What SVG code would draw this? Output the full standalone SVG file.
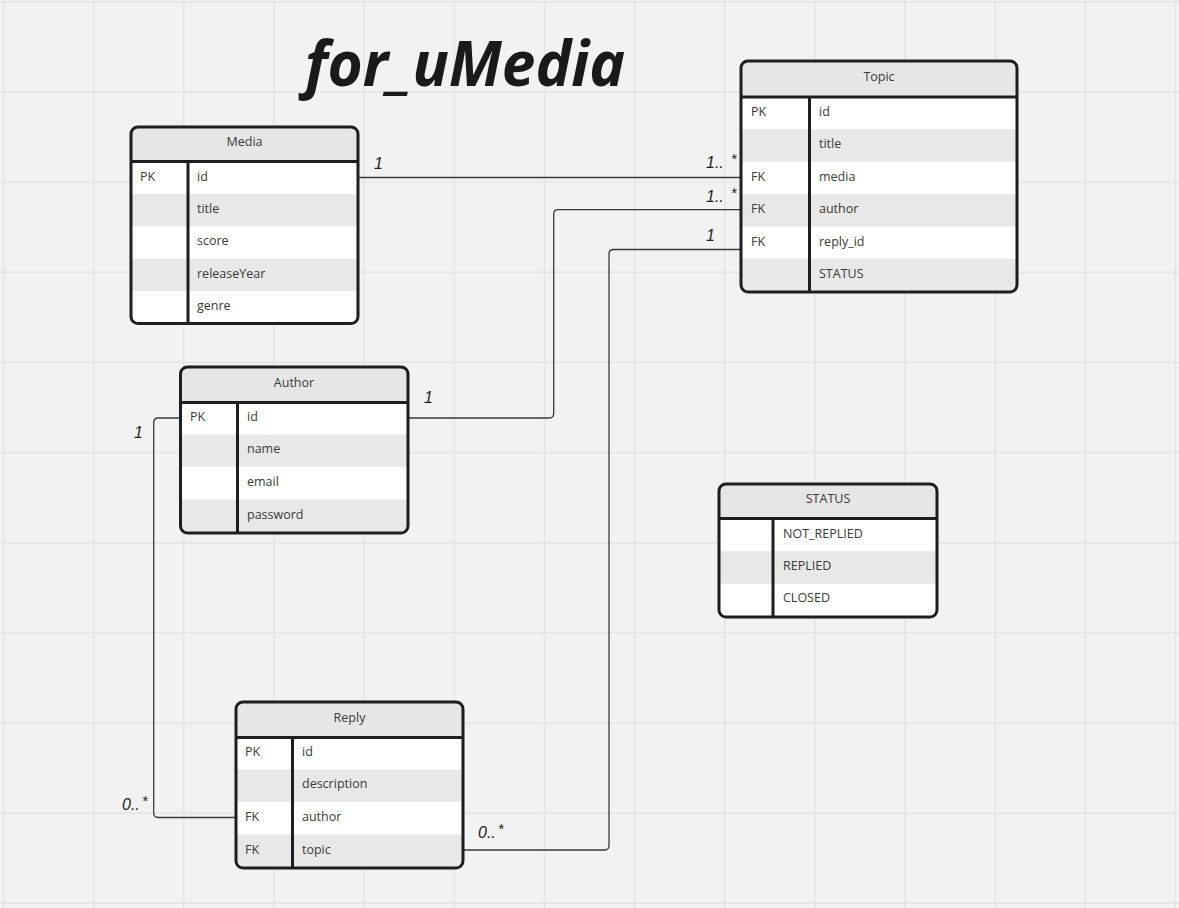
<svg xmlns="http://www.w3.org/2000/svg" width="1179" height="908" viewBox="0 0 1179 908">
<style>
.grid{stroke:#e3e3e3;stroke-width:1.4}
.box{fill:none;stroke:#1e1e1e;stroke-width:3}
.div{stroke:#1e1e1e;stroke-width:3}
.hdr{fill:#e6e6e6}
.alt{fill:#e8e8e8}
.body{fill:#ffffff}
.t{font-family:"Open Sans","Noto Sans",sans-serif;font-size:12.5px;fill:#3a3a3a;transform:translateY(-0.8px)}
.h{font-family:"Open Sans","Noto Sans",sans-serif;font-size:12.5px;fill:#3a3a3a;text-anchor:middle;transform:translateY(-0.8px)}
.conn{fill:none;stroke:#3a3a3a;stroke-width:1.3}
.lbl{font-family:"Liberation Sans","DejaVu Sans",sans-serif;font-style:italic;font-size:16px;fill:#222}
.star{font-size:15px}
.title{font-family:"Noto Sans","DejaVu Sans",sans-serif;font-weight:bold;font-style:italic;font-size:62px;fill:#1a1a1a}
</style>
<defs>
<clipPath id="cMedia"><rect x="131" y="127" width="227" height="196.5" rx="7"/></clipPath>
<clipPath id="cTopic"><rect x="741" y="61" width="276" height="231" rx="7"/></clipPath>
<clipPath id="cAuthor"><rect x="180.5" y="367" width="227.5" height="166" rx="7"/></clipPath>
<clipPath id="cReply"><rect x="236" y="702" width="227" height="166" rx="7"/></clipPath>
<clipPath id="cStatus"><rect x="719" y="484" width="218" height="133" rx="7"/></clipPath>
</defs>
<rect x="0" y="0" width="1179" height="908" fill="#f2f2f2"/>
<g id="grid">
<path class="grid" d="M3.5,0V908M93.7,0V908M183.8,0V908M274,0V908M364.1,0V908M454.3,0V908M544.4,0V908M634.6,0V908M724.7,0V908M814.9,0V908M905,0V908M995.2,0V908M1085.3,0V908M1175.5,0V908"/>
<path class="grid" d="M0,1.8H1179M0,92H1179M0,182.1H1179M0,272.3H1179M0,362.4H1179M0,452.6H1179M0,542.7H1179M0,632.9H1179M0,723H1179M0,813.2H1179M0,903.3H1179"/>
</g>
<text id="title" class="title" x="305" y="86" textLength="320" lengthAdjust="spacingAndGlyphs">for_uMedia</text>
<g id="connectors">
<path class="conn" d="M358,177.5H741"/>
<path class="conn" d="M408,418H549.2q4.5,0 4.5,-4.5V214.2q0,-4.5 4.5,-4.5H741"/>
<path class="conn" d="M463,850H604.5q4.5,0 4.5,-4.5V254q0,-4.5 4.5,-4.5H741"/>
<path class="conn" d="M180.5,418H158.2q-4.5,0 -4.5,4.5V813q0,4.5 4.5,4.5H236"/>
<text class="lbl" x="374" y="169">1</text>
<text class="lbl" x="706" y="168">1..<tspan class="star" dx="7" dy="-4">*</tspan></text>
<text class="lbl" x="706" y="201.5">1..<tspan class="star" dx="7" dy="-4">*</tspan></text>
<text class="lbl" x="706" y="241">1</text>
<text class="lbl" x="424" y="402.5">1</text>
<text class="lbl" x="134" y="438">1</text>
<text class="lbl" x="122" y="809.5">0..<tspan class="star" dx="2" dy="-4">*</tspan></text>
<text class="lbl" x="478" y="838">0..<tspan class="star" dx="2" dy="-4">*</tspan></text>
</g>
<g id="media">
<g clip-path="url(#cMedia)">
<rect class="body" x="131" y="127" width="227" height="196.5"/>
<rect class="hdr" x="131" y="127" width="227" height="34.5"/>
<rect class="alt" x="131" y="193.9" width="227" height="32.4"/>
<rect class="alt" x="131" y="258.7" width="227" height="32.4"/>
</g>
<path class="div" d="M131,161.5H358M188,161.5V323.5"/>
<rect class="box" x="131" y="127" width="227" height="196.5" rx="7"/>
<text class="h" x="244.5" y="147.3">Media</text>
<text class="t" x="140" y="181.5">PK</text>
<text class="t" x="197" y="181.5">id</text>
<text class="t" x="197" y="213.5">title</text>
<text class="t" x="197" y="246">score</text>
<text class="t" x="197" y="278.5">releaseYear</text>
<text class="t" x="197" y="310.5">genre</text>
</g>
<g id="topic">
<g clip-path="url(#cTopic)">
<rect class="body" x="741" y="61" width="276" height="231"/>
<rect class="hdr" x="741" y="61" width="276" height="36"/>
<rect class="alt" x="741" y="129.2" width="276" height="32.5"/>
<rect class="alt" x="741" y="194" width="276" height="32.5"/>
<rect class="alt" x="741" y="258.8" width="276" height="33.2"/>
</g>
<path class="div" d="M741,97H1017M809.5,97V292"/>
<rect class="box" x="741" y="61" width="276" height="231" rx="7"/>
<text class="h" x="879" y="82.3">Topic</text>
<text class="t" x="751" y="116.7">PK</text>
<text class="t" x="819" y="116.7">id</text>
<text class="t" x="819" y="149.2">title</text>
<text class="t" x="751" y="181.7">FK</text>
<text class="t" x="819" y="181.7">media</text>
<text class="t" x="751" y="214.2">FK</text>
<text class="t" x="819" y="214.2">author</text>
<text class="t" x="751" y="246.7">FK</text>
<text class="t" x="819" y="246.7">reply_id</text>
<text class="t" x="819" y="279.2">STATUS</text>
</g>
<g id="author">
<g clip-path="url(#cAuthor)">
<rect class="body" x="180.5" y="367" width="227.5" height="166"/>
<rect class="hdr" x="180.5" y="367" width="227.5" height="35.5"/>
<rect class="alt" x="180.5" y="434.3" width="227.5" height="32.5"/>
<rect class="alt" x="180.5" y="499.3" width="227.5" height="33.7"/>
</g>
<path class="div" d="M180.5,402.5H408M237.5,402.5V533"/>
<rect class="box" x="180.5" y="367" width="227.5" height="166" rx="7"/>
<text class="h" x="294" y="388.3">Author</text>
<text class="t" x="190" y="421.7">PK</text>
<text class="t" x="247" y="421.7">id</text>
<text class="t" x="247" y="454.3">name</text>
<text class="t" x="247" y="486.9">email</text>
<text class="t" x="247" y="519.5">password</text>
</g>
<g id="reply">
<g clip-path="url(#cReply)">
<rect class="body" x="236" y="702" width="227" height="166"/>
<rect class="hdr" x="236" y="702" width="227" height="35.5"/>
<rect class="alt" x="236" y="769.3" width="227" height="32.5"/>
<rect class="alt" x="236" y="834.3" width="227" height="33.7"/>
</g>
<path class="div" d="M236,737.5H463M292.5,737.5V868"/>
<rect class="box" x="236" y="702" width="227" height="166" rx="7"/>
<text class="h" x="349.5" y="723.3">Reply</text>
<text class="t" x="245" y="756.7">PK</text>
<text class="t" x="302" y="756.7">id</text>
<text class="t" x="302" y="789.3">description</text>
<text class="t" x="245" y="821.9">FK</text>
<text class="t" x="302" y="821.9">author</text>
<text class="t" x="245" y="854.5">FK</text>
<text class="t" x="302" y="854.5">topic</text>
</g>
<g id="status">
<g clip-path="url(#cStatus)">
<rect class="body" x="719" y="484" width="218" height="133"/>
<rect class="hdr" x="719" y="484" width="218" height="34.5"/>
<rect class="alt" x="719" y="551.2" width="218" height="32.6"/>
</g>
<path class="div" d="M719,518.5H937M773,518.5V617"/>
<rect class="box" x="719" y="484" width="218" height="133" rx="7"/>
<text class="h" x="828" y="504.3">STATUS</text>
<text class="t" x="783" y="539">NOT_REPLIED</text>
<text class="t" x="783" y="570.7">REPLIED</text>
<text class="t" x="783" y="603.3">CLOSED</text>
</g>
</svg>
